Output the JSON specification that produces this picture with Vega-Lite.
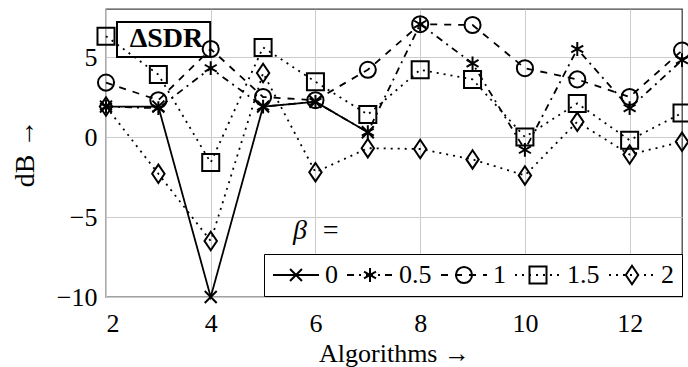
{
  "$schema": "https://vega.github.io/schema/vega-lite/v6.json",
  "width": 576,
  "height": 288,
  "autosize": "none",
  "padding": {"left": 106, "top": 9, "right": 6, "bottom": 70},
  "background": "white",
  "config": {
    "font": "Liberation Serif",
    "view": {"stroke": "#444444", "strokeWidth": 1.3},
    "axis": {
      "domain": false,
      "ticks": false,
      "grid": true,
      "gridColor": "#cccccc",
      "gridWidth": 1,
      "labelFont": "Liberation Serif",
      "labelFontSize": 26,
      "labelColor": "black",
      "titleFont": "Liberation Serif",
      "titleFontSize": 26,
      "titleFontWeight": "normal",
      "titleColor": "black"
    }
  },
  "data": {
    "values": [
      {"beta": "0", "algorithm": 2, "dB": 1.9},
      {"beta": "0", "algorithm": 3, "dB": 1.9},
      {"beta": "0", "algorithm": 4, "dB": -10},
      {"beta": "0", "algorithm": 5, "dB": 1.9},
      {"beta": "0", "algorithm": 6, "dB": 2.2},
      {"beta": "0", "algorithm": 7, "dB": 0.3},
      {"beta": "0.5", "algorithm": 2, "dB": 1.9},
      {"beta": "0.5", "algorithm": 3, "dB": 1.8},
      {"beta": "0.5", "algorithm": 4, "dB": 4.3},
      {"beta": "0.5", "algorithm": 5, "dB": 1.9},
      {"beta": "0.5", "algorithm": 6, "dB": 2.2},
      {"beta": "0.5", "algorithm": 7, "dB": 0.3},
      {"beta": "0.5", "algorithm": 8, "dB": 7.05},
      {"beta": "0.5", "algorithm": 9, "dB": 4.6},
      {"beta": "0.5", "algorithm": 10, "dB": -0.8},
      {"beta": "0.5", "algorithm": 11, "dB": 5.5},
      {"beta": "0.5", "algorithm": 12, "dB": 1.8},
      {"beta": "0.5", "algorithm": 13, "dB": 4.8},
      {"beta": "1", "algorithm": 2, "dB": 3.4},
      {"beta": "1", "algorithm": 3, "dB": 2.3},
      {"beta": "1", "algorithm": 4, "dB": 5.5},
      {"beta": "1", "algorithm": 5, "dB": 2.5},
      {"beta": "1", "algorithm": 6, "dB": 2.3},
      {"beta": "1", "algorithm": 7, "dB": 4.2},
      {"beta": "1", "algorithm": 8, "dB": 7.05},
      {"beta": "1", "algorithm": 9, "dB": 7.0},
      {"beta": "1", "algorithm": 10, "dB": 4.3},
      {"beta": "1", "algorithm": 11, "dB": 3.6},
      {"beta": "1", "algorithm": 12, "dB": 2.5},
      {"beta": "1", "algorithm": 13, "dB": 5.4},
      {"beta": "1.5", "algorithm": 2, "dB": 6.3},
      {"beta": "1.5", "algorithm": 3, "dB": 3.9},
      {"beta": "1.5", "algorithm": 4, "dB": -1.6},
      {"beta": "1.5", "algorithm": 5, "dB": 5.6},
      {"beta": "1.5", "algorithm": 6, "dB": 3.45},
      {"beta": "1.5", "algorithm": 7, "dB": 1.4},
      {"beta": "1.5", "algorithm": 8, "dB": 4.2},
      {"beta": "1.5", "algorithm": 9, "dB": 3.6},
      {"beta": "1.5", "algorithm": 10, "dB": 0.0},
      {"beta": "1.5", "algorithm": 11, "dB": 2.1},
      {"beta": "1.5", "algorithm": 12, "dB": -0.2},
      {"beta": "1.5", "algorithm": 13, "dB": 1.5},
      {"beta": "2", "algorithm": 2, "dB": 1.9},
      {"beta": "2", "algorithm": 3, "dB": -2.3},
      {"beta": "2", "algorithm": 4, "dB": -6.5},
      {"beta": "2", "algorithm": 5, "dB": 4.0},
      {"beta": "2", "algorithm": 6, "dB": -2.2},
      {"beta": "2", "algorithm": 7, "dB": -0.7},
      {"beta": "2", "algorithm": 8, "dB": -0.75},
      {"beta": "2", "algorithm": 9, "dB": -1.4},
      {"beta": "2", "algorithm": 10, "dB": -2.4},
      {"beta": "2", "algorithm": 11, "dB": 0.95},
      {"beta": "2", "algorithm": 12, "dB": -1.1},
      {"beta": "2", "algorithm": 13, "dB": -0.3}
    ]
  },
  "layer": [
    {
      "mark": {"type": "line", "strokeWidth": 1.8, "color": "black"},
      "encoding": {
        "x": {
          "field": "algorithm", "type": "quantitative",
          "scale": {"domain": [2, 13], "nice": false, "zero": false},
          "axis": {"values": [2, 4, 6, 8, 10, 12], "title": "Algorithms →", "labelPadding": 13, "titlePadding": 4}
        },
        "y": {
          "field": "dB", "type": "quantitative",
          "scale": {"domain": [-10, 8], "nice": false, "zero": false},
          "axis": {"values": [-10, -5, 0, 5], "title": "dB →", "titleFontSize": 28, "labelPadding": 9, "titlePadding": 17}
        },
        "strokeDash": {
          "field": "beta", "type": "nominal",
          "scale": {"domain": ["0", "0.5", "1", "1.5", "2"], "range": [[1, 0], [7, 5, 2, 5], [7, 7], [2, 5], [2, 5]]},
          "legend": {
            "title": null,
            "orient": "none",
            "legendX": 158,
            "legendY": 245,
            "direction": "horizontal",
            "symbolType": "stroke",
            "symbolSize": 2116,
            "symbolStrokeWidth": 2,
            "symbolStrokeColor": "black",
            "clipHeight": 26,
            "labelFont": "Liberation Serif",
            "labelFontSize": 26,
            "labelColor": "black",
            "labelOffset": 5,
            "columnPadding": 8,
            "padding": 8,
            "fillColor": "white",
            "strokeColor": "black",
            "cornerRadius": 0
          }
        }
      }
    },
    {
      "mark": {"type": "point", "filled": false, "size": 2116, "strokeWidth": 2, "color": "black", "opacity": 1},
      "encoding": {
        "x": {"field": "algorithm", "type": "quantitative"},
        "y": {"field": "dB", "type": "quantitative"},
        "shape": {
          "field": "beta", "type": "nominal",
          "scale": {
            "domain": ["0", "0.5", "1", "1.5", "2"],
            "range": [
              "M-1,0M1,0M-0.26,-0.26L0.26,0.26M-0.26,0.26L0.26,-0.26",
              "M-1,0M1,0M0,-0.3L0,0.3M-0.26,-0.15L0.26,0.15M-0.26,0.15L0.26,-0.15",
              "M-1,0M1,0M0.35,0A0.35,0.35,0,1,1,-0.35,0A0.35,0.35,0,1,1,0.35,0Z",
              "M-1,0M1,0M-0.37,-0.37L0.37,-0.37L0.37,0.37L-0.37,0.37Z",
              "M-1,0M1,0M0,-0.4L0.27,0L0,0.4L-0.27,0Z"
            ]
          },
          "legend": {
            "title": "\u200b\u00a0\u00a0\u00a0β\u00a0\u00a0=",
            "orient": "none",
            "legendX": 158,
            "legendY": 200,
            "direction": "horizontal",
            "symbolSize": 2116,
            "symbolStrokeWidth": 2,
            "symbolStrokeColor": "black",
            "symbolFillColor": "transparent",
            "symbolOpacity": 1,
            "clipHeight": 26,
            "labelFont": "Liberation Serif",
            "labelFontSize": 26,
            "labelOpacity": 0,
            "labelOffset": 5,
            "columnPadding": 8,
            "padding": 8,
            "titleFont": "Liberation Serif",
            "titleFontSize": 28,
            "titleFontStyle": "italic",
            "titleFontWeight": "normal",
            "titleColor": "black",
            "titlePadding": 17,
            "titleAnchor": "start"
          }
        }
      }
    },
    {
      "data": {"values": [{}]},
      "mark": {"type": "rect", "fill": null, "stroke": "black", "strokeWidth": 2},
      "encoding": {
        "x": {"datum": 2.21, "type": "quantitative"},
        "x2": {"datum": 3.99},
        "y": {"datum": 7.19, "type": "quantitative"},
        "y2": {"datum": 5.0}
      }
    },
    {
      "data": {"values": [{}]},
      "mark": {"type": "text", "text": "ΔSDR", "font": "Liberation Serif", "fontWeight": "bold", "fontSize": 28, "align": "center", "baseline": "alphabetic", "color": "black"},
      "encoding": {
        "x": {"datum": 3.155, "type": "quantitative"},
        "y": {"datum": 5.6, "type": "quantitative"}
      }
    }
  ],
  "resolve": {"legend": {"strokeDash": "independent", "shape": "independent"}}
}
